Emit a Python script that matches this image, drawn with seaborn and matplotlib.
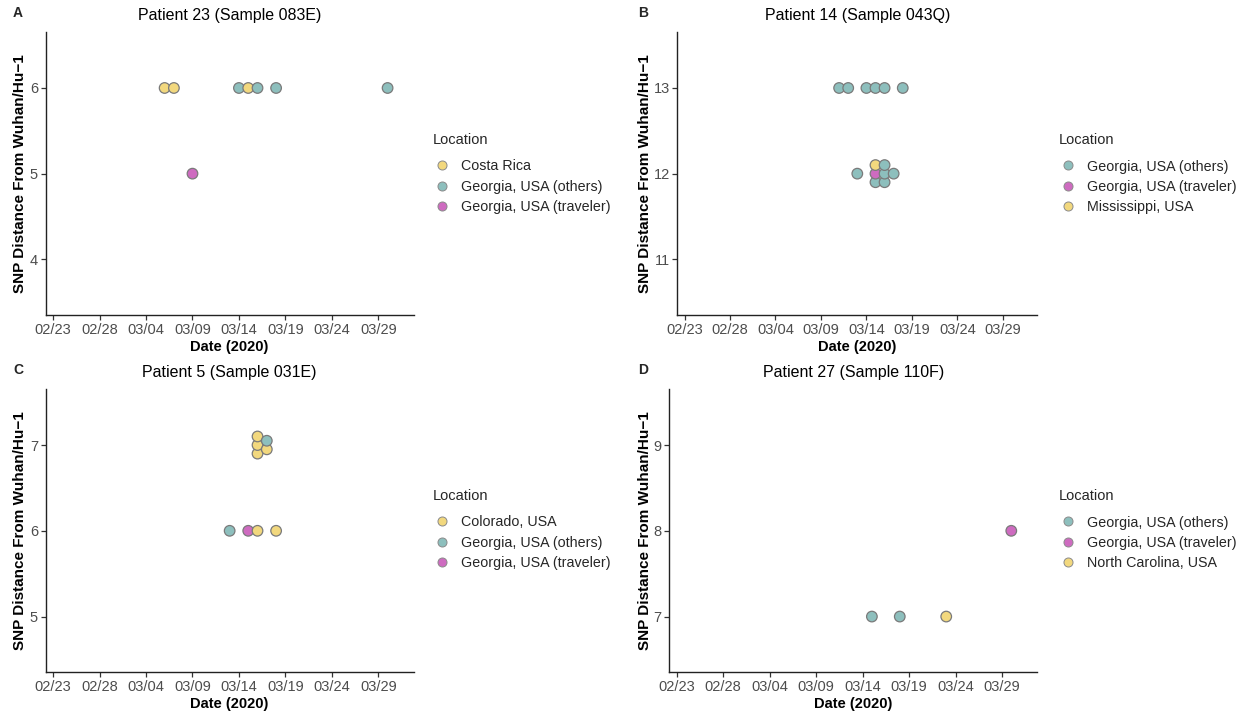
import matplotlib
matplotlib.use("Agg")
import matplotlib.pyplot as plt
import matplotlib.dates as mdates
from matplotlib.lines import Line2D
import numpy as np
import pandas as pd
import seaborn as sns

sns.set_theme(style="ticks")
plt.rcParams["font.family"] = ["Liberation Sans", "DejaVu Sans"]

YEAR = 2020

# Panel A: Patient 23 (Sample 083E)
a_dates = ["03/06", "03/07", "03/09", "03/14", "03/15", "03/16", "03/18", "03/30"]
a_snp = [6, 6, 5, 6, 6, 6, 6, 6]
a_loc = ["Costa Rica", "Costa Rica", "Georgia, USA (traveler)",
         "Georgia, USA (others)", "Costa Rica", "Georgia, USA (others)",
         "Georgia, USA (others)", "Georgia, USA (others)"]

# Panel B: Patient 14 (Sample 043Q)
b_dates = ["03/11", "03/12", "03/14", "03/15", "03/16", "03/18",
           "03/13", "03/15", "03/15", "03/15", "03/16", "03/16", "03/16", "03/17"]
b_snp = [13, 13, 13, 13, 13, 13,
         12, 12, 12, 12, 12, 12, 12, 12]
b_loc = ["Georgia, USA (others)"] * 6 + [
    "Georgia, USA (others)", "Mississippi, USA", "Georgia, USA (traveler)",
    "Georgia, USA (others)", "Georgia, USA (others)", "Georgia, USA (others)",
    "Georgia, USA (others)", "Georgia, USA (others)"]

# Panel C: Patient 5 (Sample 031E)
c_dates = ["03/16", "03/16", "03/16", "03/17", "03/17",
           "03/13", "03/15", "03/16", "03/18"]
c_snp = [7, 7, 7, 7, 7, 6, 6, 6, 6]
c_loc = ["Colorado, USA", "Colorado, USA", "Colorado, USA",
         "Georgia, USA (others)", "Colorado, USA",
         "Georgia, USA (others)", "Georgia, USA (traveler)",
         "Colorado, USA", "Colorado, USA"]

# Panel D: Patient 27 (Sample 110F)
d_dates = ["03/15", "03/18", "03/23", "03/30"]
d_snp = [7, 7, 7, 8]
d_loc = ["Georgia, USA (others)", "Georgia, USA (others)",
         "North Carolina, USA", "Georgia, USA (traveler)"]

tick_dates = ["02/23", "02/28", "03/04", "03/09", "03/14", "03/19", "03/24", "03/29"]

COL_OTHER = "#F2D87E"
COL_GA = "#8DBFBD"
COL_TRAV = "#CE6BC0"


def palette_for(locs):
    pal = {}
    for name in sorted(set(locs)):
        if name == "Georgia, USA (others)":
            pal[name] = COL_GA
        elif name == "Georgia, USA (traveler)":
            pal[name] = COL_TRAV
        else:
            pal[name] = COL_OTHER
    return pal


def to_date(s):
    return pd.Timestamp(f"{YEAR}/{s}")


def build_frame(dates, snp, locs):
    df = pd.DataFrame({"date": [to_date(d) for d in dates],
                       "snp": snp, "loc": locs})
    levels = sorted(set(locs))
    df["lvl"] = df["loc"].map({k: i for i, k in enumerate(levels)})
    # spread coincident points vertically, lowest factor level at the bottom
    df = df.sort_values(["date", "snp", "lvl"], kind="stable")
    df["k"] = df.groupby(["date", "snp"]).cumcount()
    df["n"] = df.groupby(["date", "snp"])["snp"].transform("size")
    df["y"] = df["snp"] + (df["k"] - (df["n"] - 1) / 2) * 0.1
    return df, levels


W, H = 1248, 711
fig = plt.figure(figsize=(W / 100, H / 100), dpi=100)


def rect(l, t, r, b):
    return [l / W, 1 - b / H, (r - l) / W, (b - t) / H]


# letter, title, data, centre value, axes box (px), legend anchor (px), left column x (px)
panels = [
    ("A", "Patient 23 (Sample 083E)", a_dates, a_snp, a_loc, 5,
     (45.7, 32.3, 413.6, 315.0), (433, 133), 18),
    ("B", "Patient 14 (Sample 043Q)", b_dates, b_snp, b_loc, 12,
     (677.3, 32.3, 1037.3, 315.0), (1059, 133), 643),
    ("C", "Patient 5 (Sample 031E)", c_dates, c_snp, c_loc, 6,
     (45.7, 389.3, 413.6, 672.3), (433, 489), 18),
    ("D", "Patient 27 (Sample 110F)", d_dates, d_snp, d_loc, 8,
     (669.3, 389.3, 1037.3, 672.3), (1059, 489), 643),
]

start = to_date("02/23")
tick_pos = [to_date(t) for t in tick_dates]

for letter, title, dates, snp, locs, center, box, leg, colx in panels:
    l, t, r, b = box
    ax = fig.add_axes(rect(l, t, r, b))
    df, levels = build_frame(dates, snp, locs)
    pal = palette_for(locs)
    sns.scatterplot(data=df, x="date", y="y", hue="loc", hue_order=levels,
                    palette=pal, s=58, edgecolor="#7a7a7a", linewidth=0.9,
                    ax=ax, legend=False, zorder=3)
    ax.set_xlim(start - pd.Timedelta(days=0.8), start + pd.Timedelta(days=38.8))
    ax.set_ylim(center - 1.65, center + 1.65)
    ax.set_yticks([center - 1, center, center + 1])
    ax.set_xticks(tick_pos)
    ax.xaxis.set_major_formatter(mdates.DateFormatter("%m/%d"))
    for side in ("top", "right"):
        ax.spines[side].set_visible(False)
    for side in ("left", "bottom"):
        ax.spines[side].set_color("#222222")
        ax.spines[side].set_linewidth(1.0)
    ax.tick_params(axis="both", colors="#333333", labelcolor="#4d4d4d",
                   labelsize=10.5, length=3.5, width=0.9, pad=2)
    ax.set_xlabel("Date (2020)", fontsize=10.5, fontweight="bold", color="black",
                  labelpad=2.5)
    ax.set_ylabel("SNP Distance From Wuhan/Hu\u22121", fontsize=11,
                  fontweight="bold", color="black")
    ax.yaxis.set_label_coords((colx + 9 - l) / (r - l), 0.5)
    ax.set_title(title, fontsize=11.5, color="black", pad=0,
                 y=1 + 17 / (b - t), va="center")
    fig.text(colx / W, 1 - (t - 19) / H, letter, fontsize=10, fontweight="bold",
             ha="center", va="center")

    handles = [Line2D([], [], linestyle="none", marker="o", markersize=6.5,
                      markerfacecolor=pal[k], markeredgecolor="#8a8a8a",
                      markeredgewidth=0.7) for k in levels]
    lg = fig.legend(handles, levels, title="Location", loc="upper left",
                    bbox_to_anchor=(leg[0] / W, 1 - leg[1] / H),
                    bbox_transform=fig.transFigure, frameon=False,
                    fontsize=10.3, title_fontsize=10.5, borderpad=0,
                    borderaxespad=0, handletextpad=0.75, labelspacing=0.45,
                    handlelength=1.2)
    lg._legend_box.align = "left"
    lg._legend_box.sep = 9

fig.savefig("out.png", dpi=100, facecolor="white")
